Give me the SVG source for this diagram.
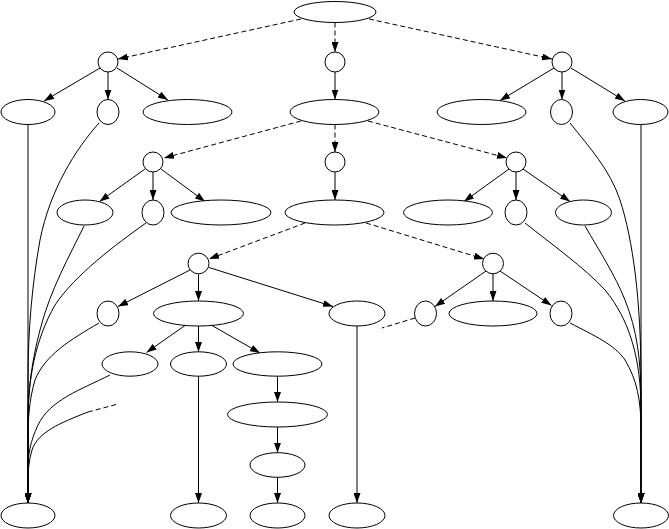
<svg xmlns="http://www.w3.org/2000/svg" width="669" height="529" viewBox="0 0 669 529">
<style>
.n{fill:#fff;stroke:#000;stroke-width:1}
.e{fill:none;stroke:#000;stroke-width:1;marker-end:url(#ah)}
.d{stroke-dasharray:5,3}
.f{fill:none;stroke:#000;stroke-width:1;stroke-dasharray:5,3}
</style>
<defs>
<marker id="ah" markerUnits="userSpaceOnUse" markerWidth="10" markerHeight="7" refX="10" refY="3.5" orient="auto">
<path d="M0,0 L10,3.5 L0,7 z" fill="#000"/>
</marker>
</defs>
<rect width="669" height="529" fill="#fff"/>
<g id="edges">
<path class="e d" d="M301,19 L118,59"/>
<path class="e d" d="M335,22.5 L335,52"/>
<path class="e d" d="M369,19 L552,59"/>
<path class="e" d="M100,68 L44,101"/>
<path class="e" d="M108,72 L108,99.5"/>
<path class="e" d="M117,68 L168,100"/>
<path class="e" d="M335,72 L335,99.5"/>
<path class="e" d="M554,68 L500,100.5"/>
<path class="e" d="M562,72 L562,99.5"/>
<path class="e" d="M571,68 L625,101"/>
<path class="e d" d="M301,121 L164,158"/>
<path class="e d" d="M335,124.5 L335,152"/>
<path class="e d" d="M368,121 L507,158"/>
<path class="e" d="M145,169 L99.5,201.5"/>
<path class="e" d="M153,172 L153,200"/>
<path class="e" d="M161,169 L205,201.5"/>
<path class="e" d="M335,172 L335,200"/>
<path class="e" d="M509,169 L464,201.5"/>
<path class="e" d="M516,172 L516,200"/>
<path class="e" d="M523,169 L570,201.5"/>
<path class="e d" d="M305,223 L209,259"/>
<path class="e d" d="M366,223 L484,259"/>
<path class="e" d="M190,270 L118,306.5"/>
<path class="e" d="M198.5,274 L198.5,301"/>
<path class="e" d="M209,267.5 L333,306.5"/>
<path class="e" d="M486,271 L435,306.5"/>
<path class="e" d="M493,274 L493,301"/>
<path class="e" d="M500,271 L551.5,305.5"/>
<path class="e" d="M185,325.5 L146.5,352.5"/>
<path class="e" d="M198.5,326 L198.5,352"/>
<path class="e" d="M212,325.5 L260,353"/>
<path class="e" d="M277.5,376 L277.5,402"/>
<path class="e" d="M277.5,427 L277.5,452.7"/>
<path class="e" d="M277.5,477.3 L277.5,503"/>
<path class="e" d="M198.5,376 L198.5,503"/>
<path class="e" d="M357,326 L357,503"/>
<path class="e" d="M28,124.5 L28,503"/>
<path class="e" d="M641,124.5 L641,503"/>
<path class="e" d="M99,123 C75,150 50,190 40,240 C32,285 28,330 28,380 L28,503"/>
<path class="e" d="M84,226 C70,255 50,290 40,330 C32,360 28,390 28,420 L28,503"/>
<path class="e" d="M146,223 C115,245 75,275 55,305 C35,340 28,380 28,420 L28,503"/>
<path class="e" d="M99,323 C70,340 45,355 35,380 C29,400 28,420 28,440 L28,503"/>
<path class="e" d="M110,375 C80,390 50,400 38,425 C30,442 28,455 28,470 L28,503"/>
<path class="e" d="M88,412 C60,423 38,432 32,450 C29,460 28,470 28,480 L28,503"/>
<path class="f" d="M88,412 L118,404"/>
<path class="e" d="M570,123 C590,148 610,170 620,200 C633,240 641,300 641,380 L641,503"/>
<path class="e" d="M585,226 C600,252 615,275 625,300 C637,330 641,360 641,400 L641,503"/>
<path class="e" d="M525,223 C550,243 585,268 605,290 C630,320 641,360 641,410 L641,503"/>
<path class="e" d="M570,323 C595,336 615,345 625,360 C637,380 641,400 641,430 L641,503"/>
<path class="f" d="M415,318 L382,328"/>
</g>
<g id="n0"><ellipse class="n" cx="335" cy="12" rx="41" ry="10.5"/></g>
<g id="n1"><ellipse class="n" cx="108" cy="62" rx="10" ry="10"/></g>
<g id="n2"><ellipse class="n" cx="335" cy="62" rx="10" ry="10"/></g>
<g id="n3"><ellipse class="n" cx="562" cy="62" rx="10" ry="10"/></g>
<g id="n4"><ellipse class="n" cx="28" cy="112" rx="27" ry="12.5"/></g>
<g id="n5"><ellipse class="n" cx="108" cy="112" rx="11" ry="12.5"/></g>
<g id="n6"><ellipse class="n" cx="187.5" cy="112" rx="44.5" ry="12.5"/></g>
<g id="n7"><ellipse class="n" cx="334.5" cy="112" rx="44.5" ry="12.5"/></g>
<g id="n8"><ellipse class="n" cx="481.5" cy="112" rx="44.5" ry="12.5"/></g>
<g id="n9"><ellipse class="n" cx="561.5" cy="112" rx="11" ry="12.5"/></g>
<g id="n10"><ellipse class="n" cx="640.5" cy="112" rx="27.5" ry="12.5"/></g>
<g id="n11"><ellipse class="n" cx="153" cy="162" rx="10" ry="10"/></g>
<g id="n12"><ellipse class="n" cx="335" cy="162" rx="10" ry="10"/></g>
<g id="n13"><ellipse class="n" cx="516" cy="162" rx="10" ry="10"/></g>
<g id="n14"><ellipse class="n" cx="85" cy="212.5" rx="28" ry="12.5"/></g>
<g id="n15"><ellipse class="n" cx="153" cy="212.5" rx="11" ry="12.5"/></g>
<g id="n16"><ellipse class="n" cx="221" cy="212.5" rx="50" ry="12.5"/></g>
<g id="n17"><ellipse class="n" cx="334.5" cy="212.5" rx="49.5" ry="12.5"/></g>
<g id="n18"><ellipse class="n" cx="448" cy="212.5" rx="44.5" ry="12.5"/></g>
<g id="n19"><ellipse class="n" cx="516" cy="212.5" rx="11" ry="12.5"/></g>
<g id="n20"><ellipse class="n" cx="583.5" cy="212.5" rx="28" ry="12.5"/></g>
<g id="n21"><ellipse class="n" cx="198.5" cy="263.5" rx="10.5" ry="10.3"/></g>
<g id="n22"><ellipse class="n" cx="493" cy="263.5" rx="10.5" ry="10.3"/></g>
<g id="n23"><ellipse class="n" cx="108" cy="313.5" rx="11" ry="12.5"/></g>
<g id="n24"><ellipse class="n" cx="198.5" cy="313.5" rx="45" ry="12.5"/></g>
<g id="n25"><ellipse class="n" cx="357" cy="313.5" rx="28" ry="12.5"/></g>
<g id="n26"><ellipse class="n" cx="425.5" cy="313.5" rx="11" ry="12.5"/></g>
<g id="n27"><ellipse class="n" cx="493" cy="313.5" rx="44" ry="12.5"/></g>
<g id="n28"><ellipse class="n" cx="561" cy="313.5" rx="11" ry="12.5"/></g>
<g id="n29"><ellipse class="n" cx="130" cy="364" rx="28" ry="12.2"/></g>
<g id="n30"><ellipse class="n" cx="198.5" cy="364" rx="28" ry="12.2"/></g>
<g id="n31"><ellipse class="n" cx="277.5" cy="364" rx="44.5" ry="12.2"/></g>
<g id="n32"><ellipse class="n" cx="277.5" cy="414.5" rx="50" ry="12.5"/></g>
<g id="n33"><ellipse class="n" cx="277.5" cy="465" rx="27.5" ry="12.3"/></g>
<g id="n34"><ellipse class="n" cx="28" cy="515.5" rx="27" ry="12.5"/></g>
<g id="n35"><ellipse class="n" cx="198.5" cy="515.5" rx="28" ry="12.5"/></g>
<g id="n36"><ellipse class="n" cx="277.5" cy="515.5" rx="27.5" ry="12.5"/></g>
<g id="n37"><ellipse class="n" cx="357" cy="515.5" rx="28" ry="12.5"/></g>
<g id="n38"><ellipse class="n" cx="641" cy="515.5" rx="27.5" ry="12.5"/></g>
</svg>
